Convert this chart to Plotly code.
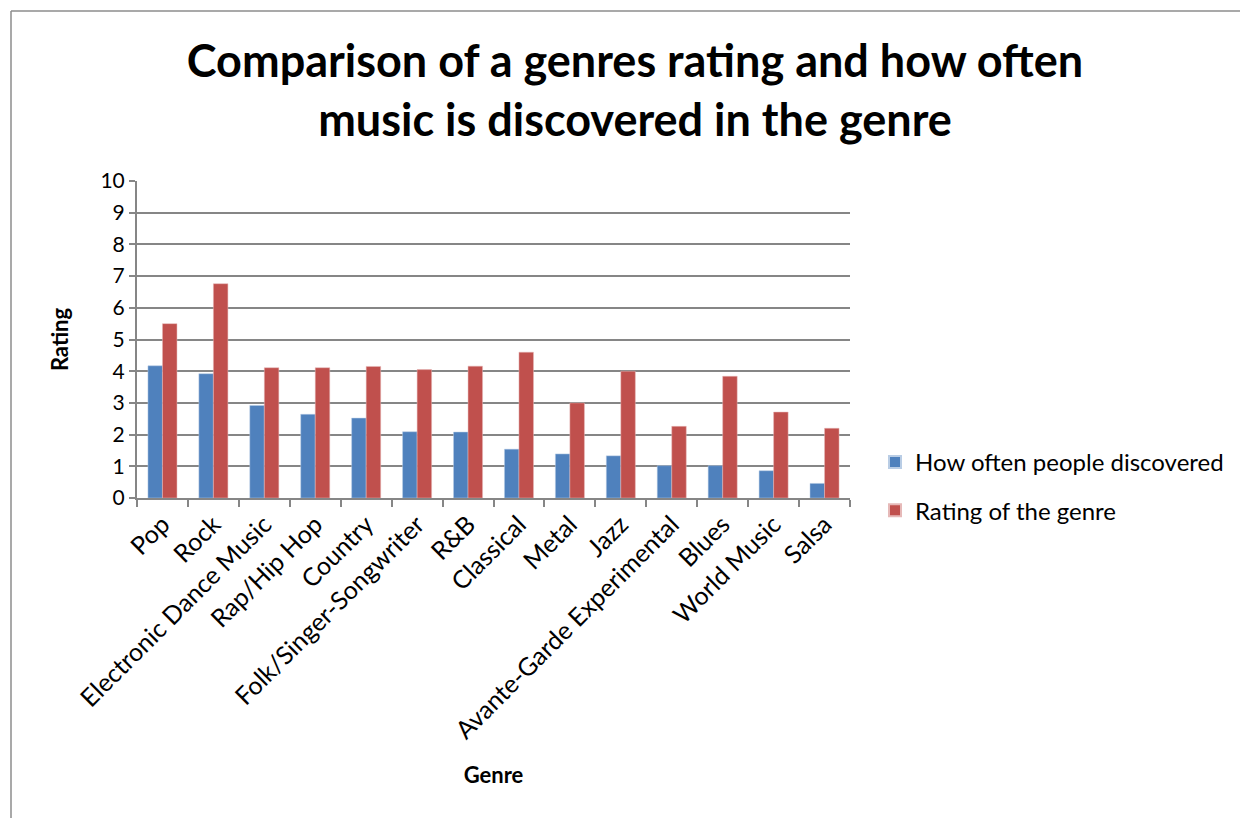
import plotly.graph_objects as go

genres = ["Pop", "Rock", "Electronic Dance Music", "Rap/Hip Hop", "Country",
          "Folk/Singer-Songwriter", "R&B", "Classical", "Metal", "Jazz",
          "Avante-Garde Experimental", "Blues", "World Music", "Salsa"]
discovered = [4.17, 3.92, 2.92, 2.64, 2.52, 2.09, 2.08, 1.54, 1.39, 1.33, 1.02, 1.02, 0.86, 0.46]
rating = [5.50, 6.76, 4.11, 4.11, 4.15, 4.05, 4.16, 4.60, 3.00, 4.00, 2.26, 3.84, 2.71, 2.20]
y_ticks = list(range(0, 11))

FONT = "Lato"
GRID = "#868686"
OFF = 8  # page body margin

fig = go.Figure()
fig.add_trace(go.Bar(x=genres, y=discovered, name="How often people discovered",
                     marker=dict(color="#4F81BD", line=dict(color="#B9CDE5", width=0.5)),
                     legendgroup="a"))
fig.add_trace(go.Bar(x=genres, y=rating, name="Rating of the genre",
                     marker=dict(color="#C0504D", line=dict(color="#E6B9B8", width=0.5)),
                     legendgroup="b"))

W, H = 1248 - OFF, 818 - OFF
L, R, T, B = 137 - OFF, 850 - OFF, 181 - OFF, 498 - OFF
def px(x):
    return (x - OFF - L) / (R - L)
def py(y):
    return (B - (y - OFF)) / (B - T)

fig.update_layout(
    width=W, height=H,
    margin=dict(l=L, r=W - R, t=T, b=H - B, autoexpand=False),
    paper_bgcolor="white", plot_bgcolor="white",
    barmode="group", bargap=0.43, bargroupgap=0,
    font=dict(family=FONT, color="black"),
    title=dict(text="<b>Comparison of a genres rating and how often<br>music is discovered in the genre</b>",
               x=(635 - OFF) / W, xanchor="center", y=1 - (77 - OFF) / H, yanchor="middle",
               font=dict(size=45, family=FONT)),
    legend=dict(x=px(875), y=py(440), xanchor="left", yanchor="top",
                font=dict(size=24, family=FONT), traceorder="grouped",
                tracegroupgap=14, itemsizing="constant"),
    xaxis=dict(showline=True, linecolor=GRID, linewidth=2, ticks="outside",
               tickson="boundaries", ticklen=7, tickcolor=GRID, tickwidth=2,
               tickangle=-45, tickfont=dict(size=25, family=FONT),
               title=dict(text="<b>Genre</b>", font=dict(size=22, family=FONT), standoff=24)),
    yaxis=dict(range=[0, 10], tickvals=y_ticks, showgrid=True, gridcolor=GRID, gridwidth=2,
               showline=True, linecolor=GRID, linewidth=2, ticks="outside", ticklen=6,
               tickcolor=GRID, tickwidth=2, tickfont=dict(size=21, family=FONT),
               title=dict(text="<b>Rating</b>", font=dict(size=22, family=FONT), standoff=26),
               zeroline=False),
)

# chart frame border
fig.add_shape(type="line", xref="paper", yref="paper", x0=px(11), x1=px(1300), y0=py(11), y1=py(11),
              line=dict(color="#8C8C8C", width=1.5))
fig.add_shape(type="line", xref="paper", yref="paper", x0=px(11), x1=px(11), y0=py(11), y1=py(830),
              line=dict(color="#8C8C8C", width=1.5))

fig.write_html("out.html")
